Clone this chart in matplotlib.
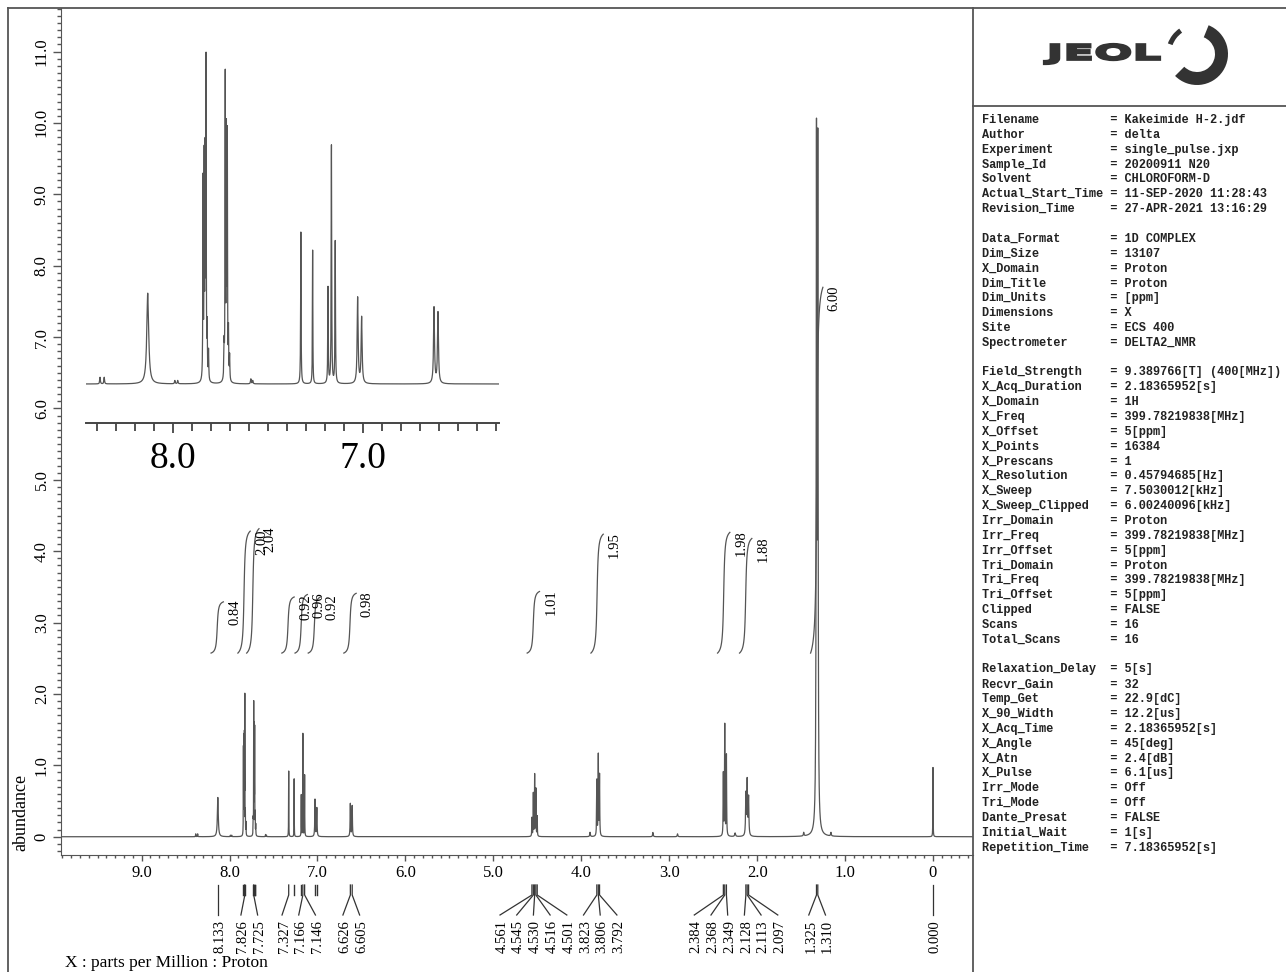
import numpy as np
import matplotlib.pyplot as plt
from matplotlib.patches import Wedge, PathPatch
from matplotlib.textpath import TextPath
from matplotlib.font_manager import FontProperties
from matplotlib.ticker import MultipleLocator, FuncFormatter
import matplotlib.transforms as mtrans

plt.rcParams['font.family'] = ['Liberation Serif', 'DejaVu Serif']

# spectrum lines: shift (ppm), height (abundance), half width (ppm)
peak_ppm = [8.384, 8.362, 8.133, 7.99, 7.975,
            7.842, 7.836, 7.831, 7.826, 7.820, 7.813,
            7.731, 7.725, 7.719, 7.714, 7.708, 7.702,
            7.59, 7.58, 7.327, 7.265, 7.184, 7.166, 7.146, 7.028, 7.007,
            6.626, 6.605,
            4.561, 4.545, 4.530, 4.516, 4.501,
            3.90, 3.823, 3.806, 3.792, 3.185, 2.905,
            2.384, 2.368, 2.349, 2.25, 2.128, 2.113, 2.097,
            1.47, 1.325, 1.310, 1.16, 0.000]
peak_height = [0.04, 0.04, 0.55, 0.02, 0.02,
               1.2, 1.3, 1.3, 1.9, 0.3, 0.18,
               0.2, 1.82, 1.45, 1.45, 0.28, 0.15,
               0.03, 0.02, 0.92, 0.81, 0.58, 1.44, 0.86, 0.52, 0.40,
               0.46, 0.43,
               0.26, 0.60, 0.86, 0.66, 0.28,
               0.06, 0.78, 1.13, 0.85, 0.06, 0.04,
               0.87, 1.55, 1.13, 0.05, 0.58, 0.76, 0.53,
               0.05, 9.45, 9.30, 0.05, 0.97]
peak_width = [0.002, 0.002, 0.006, 0.002, 0.002,
              0.0012, 0.0012, 0.0012, 0.0012, 0.0012, 0.0015,
              0.0015, 0.0012, 0.0012, 0.0012, 0.0012, 0.0015,
              0.002, 0.002, 0.0014, 0.0012, 0.0015, 0.0015, 0.0015, 0.003, 0.003,
              0.003, 0.003,
              0.002, 0.002, 0.002, 0.002, 0.002,
              0.004, 0.0025, 0.0025, 0.0025, 0.004, 0.004,
              0.0025, 0.0025, 0.0025, 0.006, 0.004, 0.004, 0.004,
              0.004, 0.004, 0.004, 0.004, 0.0015]

# picked peaks (labelled) and extra picks (bar only)
pick_ppm = [8.133, 7.826, 7.725, 7.327, 7.166, 7.146, 6.626, 6.605,
            4.561, 4.545, 4.530, 4.516, 4.501, 3.823, 3.806, 3.792,
            2.384, 2.368, 2.349, 2.128, 2.113, 2.097, 1.325, 1.310, 0.000]
mark_ppm = [7.842, 7.836, 7.831, 7.820, 7.731, 7.719, 7.714, 7.708,
            7.265, 7.184, 7.028, 7.007]

# integrals
int_ppm = [8.14, 7.835, 7.735, 7.335, 7.185, 7.035, 6.63, 4.545, 3.82, 2.38, 2.13, 1.322]
int_value = [0.84, 2.00, 2.04, 0.92, 0.96, 0.92, 0.98, 1.01, 1.95, 1.98, 1.88, 6.00]

info_keys = ["Filename", "Author", "Experiment", "Sample_Id", "Solvent",
             "Actual_Start_Time", "Revision_Time", "",
             "Data_Format", "Dim_Size", "X_Domain", "Dim_Title", "Dim_Units",
             "Dimensions", "Site", "Spectrometer", "",
             "Field_Strength", "X_Acq_Duration", "X_Domain", "X_Freq", "X_Offset",
             "X_Points", "X_Prescans", "X_Resolution", "X_Sweep", "X_Sweep_Clipped",
             "Irr_Domain", "Irr_Freq", "Irr_Offset", "Tri_Domain", "Tri_Freq",
             "Tri_Offset", "Clipped", "Scans", "Total_Scans", "",
             "Relaxation_Delay", "Recvr_Gain", "Temp_Get", "X_90_Width", "X_Acq_Time",
             "X_Angle", "X_Atn", "X_Pulse", "Irr_Mode", "Tri_Mode", "Dante_Presat",
             "Initial_Wait", "Repetition_Time"]
info_vals = ["Kakeimide H-2.jdf", "delta", "single_pulse.jxp", "20200911 N20", "CHLOROFORM-D",
             "11-SEP-2020 11:28:43", "27-APR-2021 13:16:29", "",
             "1D COMPLEX", "13107", "Proton", "Proton", "[ppm]",
             "X", "ECS 400", "DELTA2_NMR", "",
             "9.389766[T] (400[MHz])", "2.18365952[s]", "1H", "399.78219838[MHz]", "5[ppm]",
             "16384", "1", "0.45794685[Hz]", "7.5030012[kHz]", "6.00240096[kHz]",
             "Proton", "399.78219838[MHz]", "5[ppm]", "Proton", "399.78219838[MHz]",
             "5[ppm]", "FALSE", "16", "16", "",
             "5[s]", "32", "22.9[dC]", "12.2[us]", "2.18365952[s]",
             "45[deg]", "2.4[dB]", "6.1[us]", "Off", "Off", "FALSE",
             "1[s]", "7.18365952[s]"]

W, H = 1286, 972
grey = '#555555'

fig = plt.figure(figsize=(W / 100, H / 100), dpi=100)

# page axes in pixel units for frame, logo and parameter list
page = fig.add_axes([0, 0, 1, 1])
page.set_xlim(0, W)
page.set_ylim(H, 0)
page.axis('off')

# build spectrum
grid = np.linspace(-0.47, 9.93, 26000)
ppm = np.sort(np.concatenate([grid, peak_ppm]))
spec = np.zeros_like(ppm)
for c, h, w in zip(peak_ppm, peak_height, peak_width):
    spec += h / (1 + ((ppm - c) / w) ** 2)

fmt = FuncFormatter(lambda v, p: '0' if abs(v) < 1e-9 else '%.1f' % v)

# main spectrum
ax = fig.add_axes([60.7 / W, 1 - 855 / H, (973 - 60.7) / W, (855 - 8) / H])
ax.patch.set_alpha(0)
ax.plot(ppm, spec, color=grey, lw=0.9)
ax.set_xlim(9.92, -0.455)
ax.set_ylim(-0.256, 11.61)
ax.spines['top'].set_visible(False)
ax.spines['right'].set_visible(False)
for s in ['left', 'bottom']:
    ax.spines[s].set_color(grey)
ax.xaxis.set_major_locator(MultipleLocator(1))
ax.xaxis.set_minor_locator(MultipleLocator(0.1))
ax.yaxis.set_major_locator(MultipleLocator(1))
ax.yaxis.set_minor_locator(MultipleLocator(0.1))
ax.xaxis.set_major_formatter(fmt)
ax.yaxis.set_major_formatter(fmt)
ax.tick_params(axis='x', which='major', length=4.5, width=1, color=grey, labelsize=12, pad=3)
ax.tick_params(axis='x', which='minor', length=2.5, width=1, color=grey)
ax.tick_params(axis='y', which='major', length=5.8, width=1, color=grey, labelsize=12, pad=2,
               labelrotation=90)
ax.tick_params(axis='y', which='minor', length=3, width=1, color=grey)
for lab in ax.get_yticklabels():
    lab.set_va('center')

# integrals
px_per_ppm = (973 - 60.7) / (9.92 + 0.455)
int_base = 2.573
int_scale = 0.854
for c, v in zip(int_ppm, int_value):
    xs = np.linspace(c + 0.07, c - 0.07, 80)
    f = np.arctan((c - xs) / 0.01)
    f = (f - f[0]) / (f[-1] - f[0])
    ys = int_base + v * int_scale * f
    ax.plot(xs, ys, color=grey, lw=0.9)
    ax.text(c - 11 / px_per_ppm, ys[-1] + 0.03, '%.2f' % v, rotation=90,
            ha='left', va='top', fontsize=10.5)


# peak label positions: spread labels so they don't overlap
def spread(u, gap):
    clusters = [[v] for v in sorted(u)]
    merged = True
    while merged:
        merged = False
        for i in range(len(clusters) - 1):
            a, b = clusters[i], clusters[i + 1]
            a_end = np.mean(a) + (len(a) - 1) * gap / 2
            b_start = np.mean(b) - (len(b) - 1) * gap / 2
            if b_start - a_end < gap:
                clusters[i] = a + b
                del clusters[i + 1]
                merged = True
                break
    out = []
    for cl in clusters:
        m = np.mean(cl)
        out += [m + (k - (len(cl) - 1) / 2) * gap for k in range(len(cl))]
    return out


trans = mtrans.blended_transform_factory(ax.transData, page.transData)
gap = 16.7 / px_per_ppm
order = sorted(pick_ppm, reverse=True)
lab_pos = [-u for u in spread([-p for p in order], gap)]
for p in mark_ppm:
    ax.plot([p, p], [885, 895], color='#333333', lw=1, transform=trans, clip_on=False)
for p, q in zip(order, lab_pos):
    ax.plot([p, p, q], [885, 895, 915], color='#333333', lw=0.9, transform=trans, clip_on=False)
    ax.text(q + 2 / px_per_ppm * -1, 920, '%.3f' % p, rotation=90, ha='center', va='top',
            fontsize=10.5, transform=trans)

# inset: expanded aromatic region
axi = fig.add_axes([86 / W, 1 - 423 / H, (499 - 86) / W, (423 - 30) / H])
axi.patch.set_alpha(0)
axi.plot(ppm, spec, color=grey, lw=0.9)
axi.set_xlim(8.458, 6.284)
axi.set_ylim(-0.2364, 2.145)
for s in ['top', 'right', 'left']:
    axi.spines[s].set_visible(False)
axi.spines['bottom'].set_color('#444444')
axi.spines['bottom'].set_linewidth(1.4)
axi.set_yticks([])
axi.xaxis.set_major_locator(MultipleLocator(1))
axi.xaxis.set_minor_locator(MultipleLocator(0.1))
axi.xaxis.set_major_formatter(fmt)
axi.tick_params(axis='x', which='major', length=7.2, width=1.3, color='#444444', labelsize=27, pad=6)
axi.tick_params(axis='x', which='minor', length=6, width=1.3, color='#444444')

# frame
for x0, y0, x1, y1 in [(8, 8, W, 8), (8, 8, 8, H), (973, 8, 973, H), (973, 106, W, 106)]:
    page.plot([x0, x1], [y0, y1], color=grey, lw=1.3)

# JEOL logo
tp = TextPath((0, 0), 'JEOL', size=40, prop=FontProperties(family='DejaVu Sans', weight='bold'))
bb = tp.get_extents()
tf = (mtrans.Affine2D().translate(-bb.x0, -bb.y0)
      .scale((1160 - 1044) / bb.width, -(64 - 44) / bb.height)
      .translate(1044, 64) + page.transData)
page.add_patch(PathPatch(tp, transform=tf, facecolor='#333333', edgecolor='#333333', lw=1.6))
page.add_patch(Wedge((1197, 54), 31, -68, 135, width=13, color='#333333', lw=0))
page.add_patch(Wedge((1197, 54), 31, -160, -125, width=5, color='#333333', lw=0))

# parameter list
for i, (k, v) in enumerate(zip(info_keys, info_vals)):
    if not k:
        continue
    page.text(982, 120 + i * 14.85, '%-18s= %s' % (k, v), va='center', ha='left',
              family='Liberation Mono', weight='bold', fontsize=8.6, color='#222222')

page.text(65, 963, 'X : parts per Million : Proton', va='center', ha='left', fontsize=12.5)
page.text(21, 812, 'abundance', rotation=90, va='center', ha='center', fontsize=13)

fig.savefig('out.png', dpi=100)
